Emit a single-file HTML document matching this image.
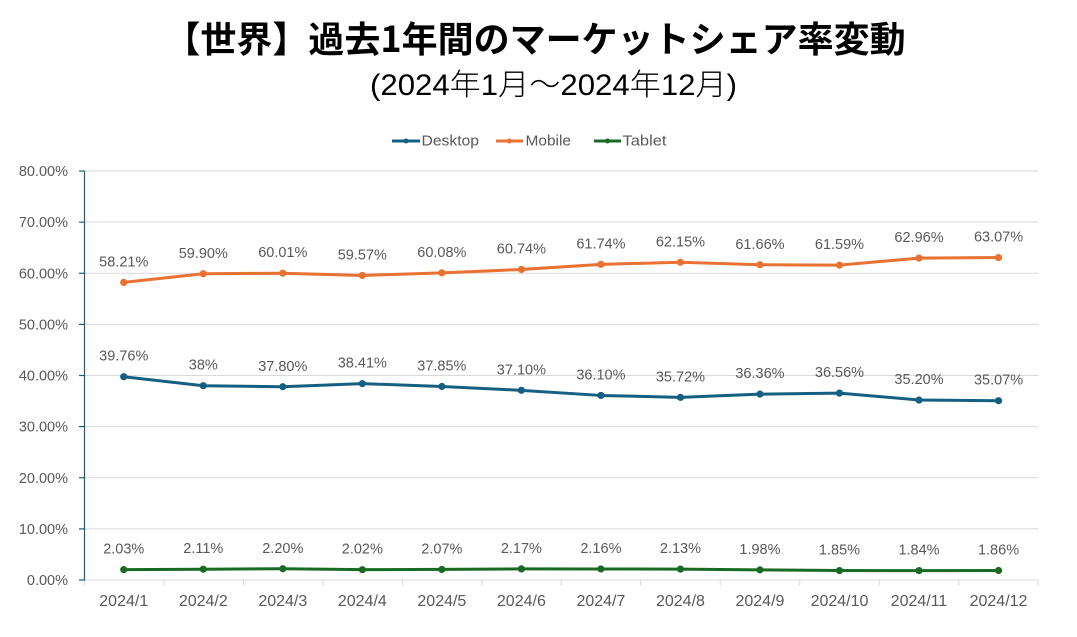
<!DOCTYPE html>
<html>
<head>
<meta charset="utf-8">
<style>
html,body{margin:0;padding:0;background:#fff;}
svg{display:block;}
text{font-family:"Liberation Sans","Noto Sans CJK JP",sans-serif;}
.lbl{font-size:14.5px;fill:#595959;text-anchor:middle;}
.yl{font-size:14.5px;fill:#595959;text-anchor:end;}
.xl{font-size:16px;fill:#595959;text-anchor:middle;}
.lg{font-size:15px;fill:#595959;}
</style>
</head>
<body>
<svg width="1077" height="637" viewBox="0 0 1077 637" xmlns="http://www.w3.org/2000/svg">
<rect width="1077" height="637" fill="#fff"/>
<!-- Title -->
<text x="535" y="52" font-size="36" font-weight="bold" text-anchor="middle" fill="#000" style="font-family:'Noto Sans CJK JP','Liberation Sans',sans-serif;font-weight:bold">【世界】過去1年間のマーケットシェア率変動</text>
<text x="553.5" y="95" font-size="30" text-anchor="middle" fill="#000" font-weight="300" textLength="367" lengthAdjust="spacingAndGlyphs">(2024年1月～2024年12月)</text>

<!-- Legend -->
<line x1="392" y1="141" x2="420" y2="141" stroke="#156082" stroke-width="3"/>
<circle cx="406" cy="141" r="2.5" fill="#156082"/>
<text class="lg" x="421.5" y="145.5" textLength="57.5" lengthAdjust="spacingAndGlyphs">Desktop</text>
<line x1="496" y1="141" x2="523" y2="141" stroke="#E97132" stroke-width="3"/>
<circle cx="509.5" cy="141" r="2.5" fill="#E97132"/>
<text class="lg" x="525.5" y="145.5" textLength="45.5" lengthAdjust="spacingAndGlyphs">Mobile</text>
<line x1="594" y1="141" x2="621" y2="141" stroke="#196B24" stroke-width="3"/>
<circle cx="607.5" cy="141" r="2.5" fill="#196B24"/>
<text class="lg" x="622.5" y="145.5" textLength="44" lengthAdjust="spacingAndGlyphs">Tablet</text>

<!-- Gridlines -->
<g stroke="#d9d9d9" stroke-width="1">
<line x1="84" y1="528.9" x2="1038.3" y2="528.9"/>
<line x1="84" y1="477.75" x2="1038.3" y2="477.75"/>
<line x1="84" y1="426.6" x2="1038.3" y2="426.6"/>
<line x1="84" y1="375.5" x2="1038.3" y2="375.5"/>
<line x1="84" y1="324.4" x2="1038.3" y2="324.4"/>
<line x1="84" y1="273.25" x2="1038.3" y2="273.25"/>
<line x1="84" y1="222.1" x2="1038.3" y2="222.1"/>
<line x1="84" y1="171" x2="1038.3" y2="171"/>
</g>

<!-- X axis -->
<g stroke="#d9d9d9" stroke-width="1">
<line x1="84" y1="580" x2="1038.3" y2="580"/>
<line x1="84.5" y1="580" x2="84.5" y2="585.5"/>
<line x1="164" y1="580" x2="164" y2="585.5"/>
<line x1="243.6" y1="580" x2="243.6" y2="585.5"/>
<line x1="323.1" y1="580" x2="323.1" y2="585.5"/>
<line x1="402.6" y1="580" x2="402.6" y2="585.5"/>
<line x1="482.1" y1="580" x2="482.1" y2="585.5"/>
<line x1="561.2" y1="580" x2="561.2" y2="585.5"/>
<line x1="640.7" y1="580" x2="640.7" y2="585.5"/>
<line x1="720.2" y1="580" x2="720.2" y2="585.5"/>
<line x1="799.7" y1="580" x2="799.7" y2="585.5"/>
<line x1="879.2" y1="580" x2="879.2" y2="585.5"/>
<line x1="958.8" y1="580" x2="958.8" y2="585.5"/>
<line x1="1038" y1="580" x2="1038" y2="585.5"/>
</g>

<!-- Y axis -->
<g stroke="#156082" stroke-width="1.2">
<line x1="84.5" y1="171" x2="84.5" y2="580.5"/>
<line x1="79" y1="171" x2="84.5" y2="171"/>
<line x1="79" y1="222.1" x2="84.5" y2="222.1"/>
<line x1="79" y1="273.25" x2="84.5" y2="273.25"/>
<line x1="79" y1="324.4" x2="84.5" y2="324.4"/>
<line x1="79" y1="375.5" x2="84.5" y2="375.5"/>
<line x1="79" y1="426.6" x2="84.5" y2="426.6"/>
<line x1="79" y1="477.75" x2="84.5" y2="477.75"/>
<line x1="79" y1="528.9" x2="84.5" y2="528.9"/>
<line x1="79" y1="580" x2="84.5" y2="580"/>
</g>

<!-- Y labels -->
<text class="yl" x="68" y="176">80.00%</text>
<text class="yl" x="68" y="227.1">70.00%</text>
<text class="yl" x="68" y="278.25">60.00%</text>
<text class="yl" x="68" y="329.4">50.00%</text>
<text class="yl" x="68" y="380.5">40.00%</text>
<text class="yl" x="68" y="431.6">30.00%</text>
<text class="yl" x="68" y="482.75">20.00%</text>
<text class="yl" x="68" y="533.9">10.00%</text>
<text class="yl" x="68" y="585">0.00%</text>

<!-- X labels -->
<text class="xl" x="123.76" y="606">2024/1</text>
<text class="xl" x="203.29" y="606">2024/2</text>
<text class="xl" x="282.81" y="606">2024/3</text>
<text class="xl" x="362.34" y="606">2024/4</text>
<text class="xl" x="441.86" y="606">2024/5</text>
<text class="xl" x="521.39" y="606">2024/6</text>
<text class="xl" x="600.91" y="606">2024/7</text>
<text class="xl" x="680.44" y="606">2024/8</text>
<text class="xl" x="759.96" y="606">2024/9</text>
<text class="xl" x="839.49" y="606">2024/10</text>
<text class="xl" x="919.01" y="606">2024/11</text>
<text class="xl" x="998.54" y="606">2024/12</text>

<!-- Mobile -->
<polyline fill="none" stroke="#E97132" stroke-width="3" stroke-linejoin="round" points="123.76,282.40 203.29,273.76 282.81,273.20 362.34,275.45 441.86,272.84 521.39,269.47 600.91,264.35 680.44,262.26 759.96,264.76 839.49,265.12 919.01,258.12 998.54,257.55"/>
<g fill="#E97132">
<circle cx="123.76" cy="282.40" r="3.6"/><circle cx="203.29" cy="273.76" r="3.6"/><circle cx="282.81" cy="273.20" r="3.6"/><circle cx="362.34" cy="275.45" r="3.6"/><circle cx="441.86" cy="272.84" r="3.6"/><circle cx="521.39" cy="269.47" r="3.6"/><circle cx="600.91" cy="264.35" r="3.6"/><circle cx="680.44" cy="262.26" r="3.6"/><circle cx="759.96" cy="264.76" r="3.6"/><circle cx="839.49" cy="265.12" r="3.6"/><circle cx="919.01" cy="258.12" r="3.6"/><circle cx="998.54" cy="257.55" r="3.6"/>
</g>

<!-- Desktop -->
<polyline fill="none" stroke="#156082" stroke-width="3" stroke-linejoin="round" points="123.76,376.73 203.29,385.73 282.81,386.75 362.34,383.63 441.86,386.49 521.39,390.33 600.91,395.44 680.44,397.38 759.96,394.11 839.49,393.09 919.01,400.04 998.54,400.71"/>
<g fill="#156082">
<circle cx="123.76" cy="376.73" r="3.6"/><circle cx="203.29" cy="385.73" r="3.6"/><circle cx="282.81" cy="386.75" r="3.6"/><circle cx="362.34" cy="383.63" r="3.6"/><circle cx="441.86" cy="386.49" r="3.6"/><circle cx="521.39" cy="390.33" r="3.6"/><circle cx="600.91" cy="395.44" r="3.6"/><circle cx="680.44" cy="397.38" r="3.6"/><circle cx="759.96" cy="394.11" r="3.6"/><circle cx="839.49" cy="393.09" r="3.6"/><circle cx="919.01" cy="400.04" r="3.6"/><circle cx="998.54" cy="400.71" r="3.6"/>
</g>

<!-- Tablet -->
<polyline fill="none" stroke="#196B24" stroke-width="3" stroke-linejoin="round" points="123.76,569.62 203.29,569.21 282.81,568.75 362.34,569.67 441.86,569.42 521.39,568.91 600.91,568.96 680.44,569.11 759.96,569.88 839.49,570.54 919.01,570.59 998.54,570.49"/>
<g fill="#196B24">
<circle cx="123.76" cy="569.62" r="3.6"/><circle cx="203.29" cy="569.21" r="3.6"/><circle cx="282.81" cy="568.75" r="3.6"/><circle cx="362.34" cy="569.67" r="3.6"/><circle cx="441.86" cy="569.42" r="3.6"/><circle cx="521.39" cy="568.91" r="3.6"/><circle cx="600.91" cy="568.96" r="3.6"/><circle cx="680.44" cy="569.11" r="3.6"/><circle cx="759.96" cy="569.88" r="3.6"/><circle cx="839.49" cy="570.54" r="3.6"/><circle cx="919.01" cy="570.59" r="3.6"/><circle cx="998.54" cy="570.49" r="3.6"/>
</g>

<!-- Mobile labels -->
<text class="lbl" x="123.76" y="266.4">58.21%</text>
<text class="lbl" x="203.29" y="257.76">59.90%</text>
<text class="lbl" x="282.81" y="257.2">60.01%</text>
<text class="lbl" x="362.34" y="259.45">59.57%</text>
<text class="lbl" x="441.86" y="256.84">60.08%</text>
<text class="lbl" x="521.39" y="253.47">60.74%</text>
<text class="lbl" x="600.91" y="248.35">61.74%</text>
<text class="lbl" x="680.44" y="246.26">62.15%</text>
<text class="lbl" x="759.96" y="248.76">61.66%</text>
<text class="lbl" x="839.49" y="249.12">61.59%</text>
<text class="lbl" x="919.01" y="242.12">62.96%</text>
<text class="lbl" x="998.54" y="241.55">63.07%</text>

<!-- Desktop labels -->
<text class="lbl" x="123.76" y="360.73">39.76%</text>
<text class="lbl" x="203.29" y="369.73">38%</text>
<text class="lbl" x="282.81" y="370.75">37.80%</text>
<text class="lbl" x="362.34" y="367.63">38.41%</text>
<text class="lbl" x="441.86" y="370.49">37.85%</text>
<text class="lbl" x="521.39" y="374.33">37.10%</text>
<text class="lbl" x="600.91" y="379.44">36.10%</text>
<text class="lbl" x="680.44" y="381.38">35.72%</text>
<text class="lbl" x="759.96" y="378.11">36.36%</text>
<text class="lbl" x="839.49" y="377.09">36.56%</text>
<text class="lbl" x="919.01" y="384.04">35.20%</text>
<text class="lbl" x="998.54" y="384.71">35.07%</text>

<!-- Tablet labels -->
<text class="lbl" x="123.76" y="553.6">2.03%</text>
<text class="lbl" x="203.29" y="553.2">2.11%</text>
<text class="lbl" x="282.81" y="552.75">2.20%</text>
<text class="lbl" x="362.34" y="553.67">2.02%</text>
<text class="lbl" x="441.86" y="553.42">2.07%</text>
<text class="lbl" x="521.39" y="552.91">2.17%</text>
<text class="lbl" x="600.91" y="552.96">2.16%</text>
<text class="lbl" x="680.44" y="553.11">2.13%</text>
<text class="lbl" x="759.96" y="553.88">1.98%</text>
<text class="lbl" x="839.49" y="554.54">1.85%</text>
<text class="lbl" x="919.01" y="554.59">1.84%</text>
<text class="lbl" x="998.54" y="554.49">1.86%</text>
</svg>
</body>
</html>
